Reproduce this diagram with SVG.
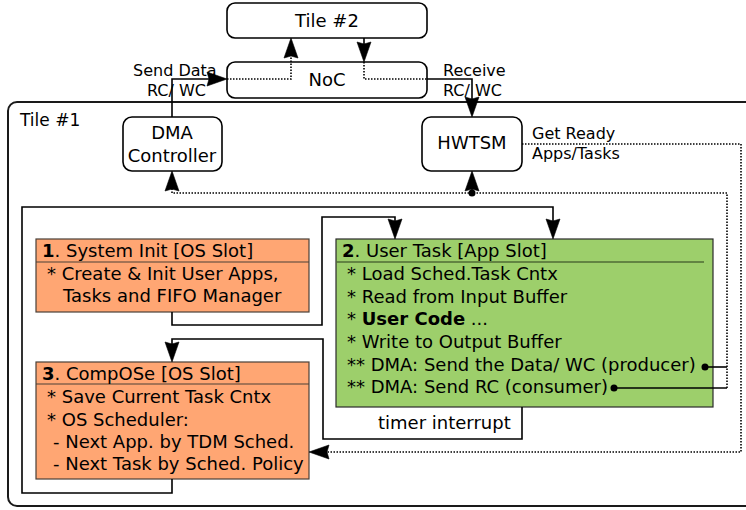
<svg xmlns="http://www.w3.org/2000/svg" width="746" height="510" viewBox="0 0 746 510">
<style>
text{font-family:"DejaVu Sans","Liberation Sans",sans-serif;fill:#000}
.n{font-size:18px}
.l{font-size:16px}
.t{font-size:17px}
.node{fill:#fff;stroke:#000;stroke-width:1.6}
.os{fill:#ffa673;stroke:#4a4038;stroke-width:1.2}
.app{fill:#9dcf6b;stroke:#2a2a2a;stroke-width:1.2}
.c{fill:none;stroke:#000;stroke-width:1.6}
.d{fill:none;stroke:#000;stroke-width:1.6;stroke-dasharray:1.5 1.5}
.ah{fill:#000;stroke:#000;stroke-width:0.6;stroke-linejoin:miter}
</style>
<g id="tile1">
<rect x="8" y="102" width="780" height="404" rx="9" fill="none" stroke="#1a1a1a" stroke-width="2"/>
<text class="t" x="20" y="126">Tile #1</text>
</g>
<g id="tile2">
<rect class="node" x="227" y="3" width="200" height="35" rx="8"/>
<text class="n" x="327" y="27" text-anchor="middle">Tile #2</text>
</g>
<g id="noc">
<rect class="node" x="227" y="62" width="200" height="36" rx="8"/>
<text class="n" x="327" y="86" text-anchor="middle">NoC</text>
</g>
<g id="dma">
<rect class="node" x="123" y="117" width="99" height="54" rx="9"/>
<text class="n" x="172" y="139" text-anchor="middle">DMA</text>
<text class="n" x="172" y="162" text-anchor="middle">Controller</text>
</g>
<g id="hwtsm">
<rect class="node" x="422" y="117" width="100" height="54" rx="9"/>
<text class="n" x="472" y="149" text-anchor="middle">HWTSM</text>
</g>
<g id="sysinit">
<rect class="os" x="36" y="239" width="273" height="73"/>
<line x1="36" y1="262" x2="309" y2="262" stroke="#4a4038" stroke-width="1.2"/>
<text class="n" x="42" y="257"><tspan font-weight="bold">1</tspan>. System Init [OS Slot]</text>
<text class="n" x="47" y="280">* Create &amp; Init User Apps,</text>
<text class="n" x="63" y="302">Tasks and FIFO Manager</text>
</g>
<g id="usertask">
<rect class="app" x="336" y="239" width="377" height="168"/>
<line x1="336" y1="262" x2="704" y2="262" stroke="#4f6b35" stroke-width="1.5"/>
<text class="n" x="342" y="257"><tspan font-weight="bold">2</tspan>. User Task [App Slot]</text>
<text class="n" x="347" y="280">* Load Sched.Task Cntx</text>
<text class="n" x="347" y="303">* Read from Input Buffer</text>
<text class="n" x="347" y="325">* <tspan font-weight="bold">User Code</tspan> ...</text>
<text class="n" x="347" y="348">* Write to Output Buffer</text>
<text class="n" x="347" y="371">** DMA: Send the Data/ WC (producer)</text>
<text class="n" x="347" y="393">** DMA: Send RC (consumer)</text>
</g>
<g id="compose">
<rect class="os" x="36" y="362" width="273" height="117"/>
<line x1="36" y1="384" x2="309" y2="384" stroke="#4a4038" stroke-width="1.2"/>
<text class="n" x="42" y="380"><tspan font-weight="bold">3</tspan>. CompOSe [OS Slot]</text>
<text class="n" x="47" y="403">* Save Current Task Cntx</text>
<text class="n" x="47" y="426">* OS Scheduler:</text>
<text class="n" x="53" y="448">- Next App. by TDM Sched.</text>
<text class="n" x="53" y="470">- Next Task by Sched. Policy</text>
</g>
<g id="connectors">
<path class="c" d="M172,117 V79 H210"/>
<polygon class="ah" points="227,79 207,72 209,79 207,86"/>
<path class="d" d="M227,79 H291 V56"/>
<polygon class="ah" points="291,38 284,58 291,56 298,58"/>
<path class="c" d="M364,38 V45"/>
<polygon class="ah" points="364,62 357,42 364,44 371,42"/>
<path class="d" d="M364,62 V79 H427"/>
<path class="c" d="M427,79 H472 V100"/>
<polygon class="ah" points="472,117 465,97 472,99 479,97"/>
<path class="d" d="M522,144 H741 V452 H327"/>
<polygon class="ah" points="309,452 329,445 327,452 329,459"/>
<path class="d" d="M727,388 V193 H172 V189"/>
<polygon class="ah" points="172,171 165,191 172,189 179,191"/>
<path class="d" d="M472,193 V189"/>
<polygon class="ah" points="472,171 465,191 472,189 479,191"/>
<circle cx="472" cy="193" r="3.5" fill="#000"/>
<path class="c" d="M705,367 H727"/>
<circle cx="705" cy="367" r="3.5" fill="#000"/>
<path class="c" d="M614,388 H727"/>
<circle cx="614" cy="388" r="3.5" fill="#000"/>
<path class="c" d="M172,479 V493 H22 V207 H553 V222"/>
<polygon class="ah" points="553,239 546,219 553,221 560,219"/>
<path class="c" d="M172,312 V325 H322 V217 H395 V222"/>
<polygon class="ah" points="395,239 388,219 395,221 402,219"/>
<path class="c" d="M522,407 V439 H323 V339 H172 V345"/>
<polygon class="ah" points="172,362 165,342 172,344 179,342"/>
</g>
<g id="labels">
<text class="l" x="133" y="76">Send Data</text>
<text class="l" x="147" y="96">RC/ WC</text>
<text class="l" x="443" y="76">Receive</text>
<text class="l" x="443" y="96">RC/ WC</text>
<text class="l" x="532" y="139">Get Ready</text>
<text class="l" x="532" y="159">Apps/Tasks</text>
<text class="n" x="378" y="429">timer interrupt</text>
</g>
</svg>
